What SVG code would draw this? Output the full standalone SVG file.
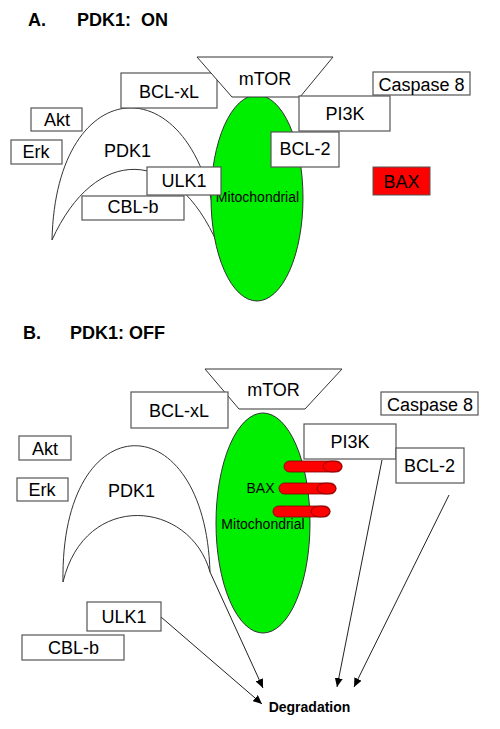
<svg xmlns="http://www.w3.org/2000/svg" width="500" height="729" viewBox="0 0 500 729">
<style>
text{font-family:"Liberation Sans",Arial,sans-serif;fill:#000;}
.lbl{font-size:18px;text-anchor:middle;}
.sm{font-size:14px;text-anchor:middle;}
.title{font-size:18px;font-weight:bold;}
.box{fill:#fff;stroke:#555;stroke-width:1.2;}
.shape{fill:#fff;stroke:#333;stroke-width:1;}
.mito{fill:#00ee00;stroke:#333;stroke-width:1;}
.pill{fill:#f00;stroke:#700;stroke-width:0.8;}
.conn{stroke:#222;stroke-width:1;fill:none;}
</style>
<defs>
<marker id="arr" markerUnits="userSpaceOnUse" markerWidth="10" markerHeight="8" refX="9" refY="4" orient="auto">
<path d="M0,0 L9,4 L0,8 z" fill="#000"/>
</marker>
</defs>
<rect width="500" height="729" fill="#fff"/>

<!-- Panel A -->
<g id="titleA">
<text class="title" x="28" y="26">A.</text>
<text class="title" x="77" y="26" xml:space="preserve">PDK1:  ON</text>
</g>
<g id="A-PDK1">
<path class="shape" d="M52,240 C56,63 205,63 218,245 C175,145 95,145 52,240 Z"/>
<text class="lbl" x="127.5" y="157">PDK1</text>
</g>
<g id="A-Akt"><rect class="box" x="31" y="108" width="51" height="23"/><text class="lbl" x="57" y="126">Akt</text></g>
<g id="A-Erk"><rect class="box" x="11" y="140" width="51" height="24"/><text class="lbl" x="36" y="158">Erk</text></g>
<g id="A-BCLxL"><rect class="box" x="121" y="73" width="96" height="35"/><text class="lbl" x="169" y="98">BCL-xL</text></g>
<g id="A-CBLb"><rect class="box" x="82" y="196" width="102" height="24"/><text class="lbl" x="133" y="213">CBL-b</text></g>
<g id="A-Mito">
<ellipse class="mito" cx="257" cy="198" rx="46" ry="103"/>
<text class="sm" x="257.5" y="202">Mitochondrial</text>
</g>
<g id="A-ULK1"><rect class="box" x="147" y="167" width="74" height="28"/><text class="lbl" x="184" y="187">ULK1</text></g>
<g id="A-mTOR">
<path class="shape" d="M197,57 L333,57 L300,97 L232,97 Z"/>
<text class="lbl" x="265" y="85">mTOR</text>
</g>
<g id="A-Caspase8"><rect class="box" x="373" y="72" width="97" height="23"/><text class="lbl" x="421.5" y="91">Caspase 8</text></g>
<g id="A-PI3K"><rect class="box" x="299" y="96" width="91" height="35"/><text class="lbl" x="345" y="120">PI3K</text></g>
<g id="A-BCL2"><rect class="box" x="271" y="132" width="68" height="35"/><text class="lbl" x="305" y="155">BCL-2</text></g>
<g id="A-BAX"><rect x="373" y="167" width="57" height="28" fill="#f00" stroke="#555" stroke-width="1"/><text class="lbl" x="401.5" y="188">BAX</text></g>

<!-- Panel B -->
<g id="titleB">
<text class="title" x="23" y="339">B.</text>
<text class="title" x="70" y="339">PDK1: OFF</text>
</g>
<g id="B-PDK1">
<path class="shape" d="M63,582 C60,402 205,402 210,572 C190,500 85,490 63,582 Z"/>
<text class="lbl" x="131.5" y="497">PDK1</text>
</g>
<g id="B-Mito">
<ellipse class="mito" cx="263" cy="523" rx="47" ry="110"/>
</g>
<g id="connectors">
<line class="conn" x1="210" y1="572" x2="263" y2="688" marker-end="url(#arr)"/>
<line class="conn" x1="161" y1="617" x2="262" y2="704" marker-end="url(#arr)"/>
<line class="conn" x1="382" y1="460" x2="337" y2="687" marker-end="url(#arr)"/>
<line class="conn" x1="449" y1="495" x2="354" y2="687" marker-end="url(#arr)"/>
</g>
<g id="B-mTOR">
<path class="shape" d="M205,369 L342,369 L305,409 L239,409 Z"/>
<text class="lbl" x="273.5" y="396">mTOR</text>
</g>
<g id="B-BCLxL"><rect class="box" x="131" y="392" width="97" height="36"/><text class="lbl" x="179" y="417">BCL-xL</text></g>
<g id="B-Akt"><rect class="box" x="19" y="436" width="52" height="24"/><text class="lbl" x="45" y="455">Akt</text></g>
<g id="B-Erk"><rect class="box" x="17" y="478" width="51" height="23"/><text class="lbl" x="42" y="496">Erk</text></g>
<g id="B-Caspase8"><rect class="box" x="381" y="392" width="97" height="23"/><text class="lbl" x="430" y="411">Caspase 8</text></g>
<g id="B-PI3K"><rect class="box" x="304" y="424" width="92" height="35"/><text class="lbl" x="350" y="448">PI3K</text></g>
<g id="B-BCL2"><rect class="box" x="396" y="448" width="68" height="35"/><text class="lbl" x="429.5" y="472">BCL-2</text></g>
<g id="B-BAX">
<rect class="pill" x="284" y="461" width="58" height="11" rx="5.5"/>
<ellipse class="pill" cx="332.5" cy="466.5" rx="9.5" ry="5.5"/>
<rect class="pill" x="279" y="483" width="57" height="11" rx="5.5"/>
<ellipse class="pill" cx="326.5" cy="488.5" rx="9.5" ry="5.5"/>
<rect class="pill" x="273" y="506" width="57" height="11" rx="5.5"/>
<ellipse class="pill" cx="320.5" cy="511.5" rx="9.5" ry="5.5"/>
<text class="sm" x="260.5" y="493">BAX</text>
<text class="sm" x="263" y="529">Mitochondrial</text>
</g>
<g id="B-ULK1"><rect class="box" x="87" y="602" width="74" height="29"/><text class="lbl" x="124" y="623">ULK1</text></g>
<g id="B-CBLb"><rect class="box" x="22" y="635" width="102" height="25"/><text class="lbl" x="73.5" y="654">CBL-b</text></g>
<g id="Degradation"><text x="309.5" y="712" font-size="14" font-weight="bold" text-anchor="middle">Degradation</text></g>
</svg>
